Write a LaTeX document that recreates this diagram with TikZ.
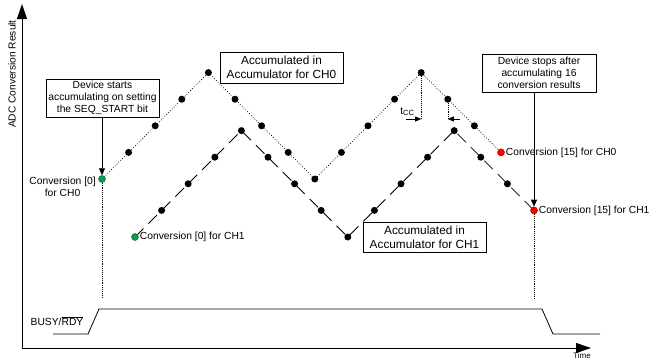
\documentclass[tikz,border=0pt]{standalone}
\usepackage{fontspec}
\setmainfont{Liberation Sans}
\usetikzlibrary{arrows.meta}
\definecolor{dgreen}{RGB}{0,160,80}
\definecolor{dred}{RGB}{255,0,0}
\begin{document}
\begin{tikzpicture}[x=1pt,y=-1pt,
  dot/.style={circle,fill=black,inner sep=0pt,minimum size=7pt},
  gdot/.style={dot,fill=dgreen,draw=black!70,line width=0.5pt},
  rdot/.style={dot,fill=dred,draw=red!60!black,line width=0.5pt},
  lbl/.style={font=\fontsize{10.3}{12.2}\selectfont,inner sep=0pt},
  bigbox/.style={draw,line width=0.8pt,align=center,inner sep=0pt,
     font=\fontsize{11.8}{13.6}\selectfont,minimum width=123pt,minimum height=31pt},
  smallbox/.style={draw,line width=0.8pt,align=center,inner sep=0pt,
     font=\fontsize{10.3}{12}\selectfont,minimum width=113pt,minimum height=38pt},
  ch0line/.style={line width=0.7pt,dash pattern=on 0.8pt off 1.8pt},
  ch1line/.style={line width=0.8pt,dash pattern=on 12pt off 7pt},
  guide/.style={line width=0.6pt,dash pattern=on 0.7pt off 1.2pt},
  axis/.style={line width=1pt},
  sig/.style={line width=0.8pt},
  pointer/.style={line width=0.8pt,-{Triangle[length=7pt,width=6pt]}},
  tarrow/.style={line width=0.8pt,-{Triangle[length=6pt,width=5pt]}}
]
\useasboundingbox (0,0) rectangle (658,360);

% sample positions
\foreach \i/\h in {0/0,1/1,2/2,3/3,4/4,5/3,6/2,7/1,8/0,9/1,10/2,11/3,12/4,13/3,14/2,15/1}{
  \coordinate (p0-\i) at ({102+26.6*\i},{179-26.6*\h});
  \coordinate (p1-\i) at ({135+26.6*\i},{237-26.6*\h});
}

% axes
\coordinate (o) at (22,348);
\coordinate (ytop) at (22,4);
\coordinate (xend) at (591,348);
\draw[axis,-{Triangle[length=15pt,width=10pt]}] (o) -- (ytop);
\draw[axis,-{Triangle[length=15pt,width=10pt]}] (o) -- (xend);
\node[font=\fontsize{10.2}{12}\selectfont,rotate=90,inner sep=0pt] (ylab) at (12,74) {ADC Conversion Result};
\node[font=\fontsize{8}{9}\selectfont,inner sep=0pt] (xlab) at (582,356) {Time};

% accumulation traces
\draw[ch0line] (p0-0) \foreach \i in {1,...,15}{ -- (p0-\i)};
\draw[ch1line] (p1-0) \foreach \i in {1,...,15}{ -- (p1-\i)};

% dots
\foreach \i in {1,...,14}{
  \node[dot] (c0-\i) at (p0-\i) {};
  \node[dot] (c1-\i) at (p1-\i) {};
}
\node[gdot] (c0-0) at (p0-0) {};
\node[gdot] (c1-0) at (p1-0) {};
\node[rdot] (c0-15) at (p0-15) {};
\node[rdot] (c1-15) at (p1-15) {};

% labels of first / last conversions
\node[lbl,align=center,anchor=east] (l00) at (96,187) {Conversion [0]\\for CH0};
\node[lbl,anchor=west] (l10) at ([xshift=1pt]c1-0.east) {Conversion [0] for CH1};
\node[lbl,anchor=west] (l015) at ([xshift=1pt]c0-15.east) {Conversion [15] for CH0};
\node[lbl,anchor=west] (l115) at ([xshift=1pt]c1-15.east) {Conversion [15] for CH1};

% boxes
\node[smallbox] (bstart) at (102.5,98) {Device starts\\accumulating on setting\\the SEQ\_START bit};
\node[bigbox] (bacc0) at (281.5,67.5) {Accumulated in\\Accumulator for CH0};
\node[smallbox,minimum width=114pt] (bstop) at (539,73) {Device stops after\\accumulating 16\\conversion results};
\node[bigbox,minimum height=30pt] (bacc1) at (424.5,237) {Accumulated in\\Accumulator for CH1};

\draw[pointer] (c0-0 |- bstart.south) -- (c0-0.north);
\draw[pointer] (c1-15 |- bstop.south) -- (c1-15.north);

% guide lines down to the BUSY signal
\coordinate (g0) at (c0-0 |- 0,298);
\coordinate (g1) at (c1-15 |- 0,298);
\draw[guide] (c0-0.south) -- (g0);
\draw[guide] (c1-15.south) -- (g1);

% t_CC marker
\coordinate (tl) at (0,119);
\coordinate (ta) at (c0-12 |- tl);
\coordinate (tb) at (c0-13 |- tl);
\draw[guide] (c0-12.south) -- (ta);
\draw[guide] (c0-13.south) -- (tb);
\draw[tarrow] ([xshift=-15pt]ta) -- (ta);
\draw[tarrow] ([xshift=12pt]tb) -- (tb);
\node[lbl,anchor=south east] (tcc) at ([xshift=-7pt,yshift=3pt]ta) {t\raisebox{-1.6pt}{\fontsize{7.5}{8}\selectfont CC}};

% BUSY/RDY signal
\node[lbl] (busy) at (57,321) {BUSY/$\overline{\mbox{RDY}}$};
\draw[sig] (53,334) -- (88,334) -- (99,309) -- (542,309) -- (553,334) -- (600,334);
\end{tikzpicture}
\end{document}
